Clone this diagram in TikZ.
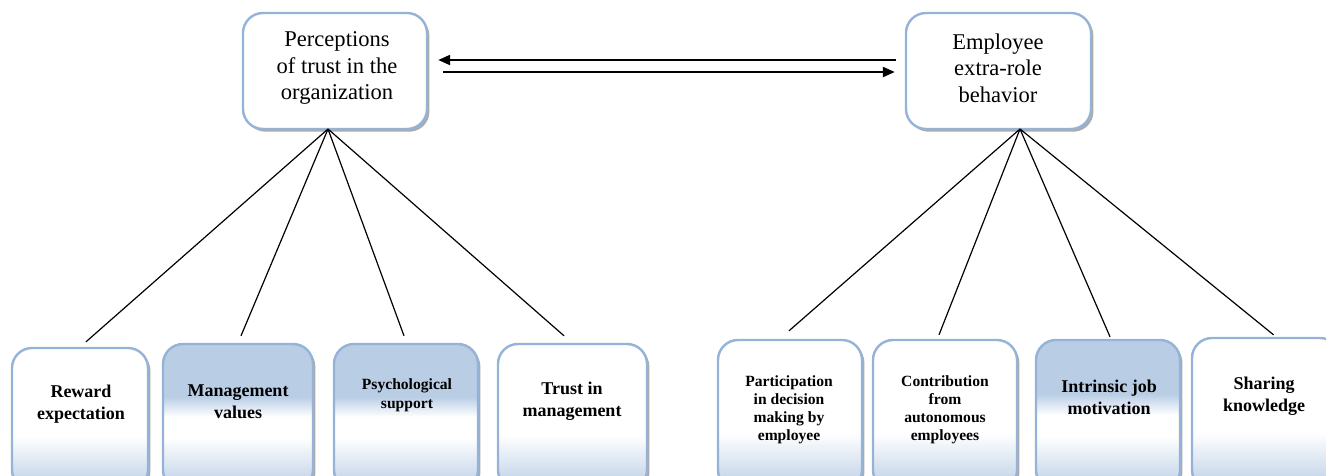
\documentclass[tikz,border=0pt]{standalone}
\usepackage{fontspec}
\setmainfont{Liberation Serif}
\usetikzlibrary{fit,calc,shadows,arrows.meta}
\definecolor{bordc}{HTML}{95B3D7}
\definecolor{fillc}{HTML}{B9CDE5}
\pgfdeclareverticalshading{blueshade}{100bp}{color(0bp)=(fillc); color(25bp)=(fillc); color(43bp)=(white); color(50bp)=(white); color(57bp)=(fillc); color(100bp)=(fillc)}
\pgfdeclareverticalshading{whiteshade}{100bp}{color(0bp)=(fillc); color(25bp)=(fillc); color(44bp)=(white); color(100bp)=(white)}
\tikzset{
  box/.style={draw=bordc, line width=1.8pt, rounded corners=15pt, inner sep=0pt,
    drop shadow={shadow xshift=1.8pt, shadow yshift=-2pt, fill=black!55, opacity=0.6}},
  topbox/.style={box, fill=white},
  bluebox/.style={box, shade, shading=blueshade},
  whitebox/.style={box, shade, shading=whiteshade},
  toptext/.style={align=center, inner sep=0pt, font=\fontsize{16.9}{20}\selectfont},
  bigtext/.style={align=center, inner sep=0pt, font=\bfseries\fontsize{13.5}{16.5}\selectfont},
  smalltext/.style={align=center, inner sep=0pt, font=\bfseries\fontsize{11.7}{14.5}\selectfont},
  tinytext/.style={align=center, inner sep=0pt, font=\bfseries\fontsize{11.7}{13.5}\selectfont},
  conn/.style={line width=0.9pt, black},
  arr/.style={line width=1.6pt, -{Triangle[length=9pt,width=7.5pt]}},
}
\begin{document}
\begin{tikzpicture}[x=0.75pt, y=-0.75pt]
\useasboundingbox (0,0) rectangle (1326,475);

% top boxes
\node[topbox, fit={(243,13) (427,129)}] (L) {};
\node[topbox, fit={(906,13) (1091,129)}] (R) {};
\node[toptext] (Lt) at (337,68) {Perceptions\\of trust in the\\organization};
\node[toptext] (Rt) at (998,68) {Employee\\extra-role\\behavior};

% arrows
\draw[arr, shorten <=6.75pt, shorten >=7.5pt] ([yshift=8.25pt]R.west) -- ([yshift=8.25pt]L.east);
\draw[arr, shorten <=11.25pt, shorten >=7.5pt] ([yshift=-0.75pt]L.east) -- ([yshift=-0.75pt]R.west);

% bottom boxes
\node[whitebox, fit={(12,348) (148,490)}] (b1) {};
\node[bluebox, fit={(163,344) (313,490)}] (b2) {};
\node[bluebox, fit={(334,344) (478,490)}] (b3) {};
\node[whitebox, fit={(498,344) (647,490)}] (b4) {};
\node[whitebox, fit={(718,340) (862,490)}] (b5) {};
\node[whitebox, fit={(873,340) (1017,490)}] (b6) {};
\node[bluebox, fit={(1036,340) (1180,490)}] (b7) {};
\node[whitebox, fit={(1192,338) (1340,490)}] (b8) {};

\node[bigtext] (t1) at (81,404) {Reward\\expectation};
\node[bigtext] (t2) at (238,402) {Management\\values};
\node[smalltext] (t3) at (407,395) {Psychological\\support};
\node[bigtext] (t4) at (572,401) {Trust in\\management};
\node[tinytext] (t5) at (789,410) {Participation\\in decision\\making by\\employee};
\node[tinytext] (t6) at (945,410) {Contribution\\from\\autonomous\\employees};
\node[bigtext] (t7) at (1109,397) {Intrinsic job\\motivation};
\node[bigtext] (t8) at (1264,396) {Sharing\\knowledge};

% connectors
\coordinate (cl) at (328,129);
\coordinate (cr) at (1020,129);
\draw[conn] (cl) -- ($(b1.north)+(6,-5)$);
\draw[conn] (cl) -- ($(b2.north)+(3,-7)$);
\draw[conn] (cl) -- ($(b3.north)+(-2,-7)$);
\draw[conn] (cl) -- ($(b4.north)+(-8.5,-7)$);
\draw[conn] (cr) -- ($(b5.north)+(-1,-8)$);
\draw[conn] (cr) -- ($(b6.north)+(-6,-4)$);
\draw[conn] (cr) -- ($(b7.north)+(2,-2)$);
\draw[conn] (cr) -- ($(b8.north)+(7.5,-2)$);
\end{tikzpicture}
\end{document}
